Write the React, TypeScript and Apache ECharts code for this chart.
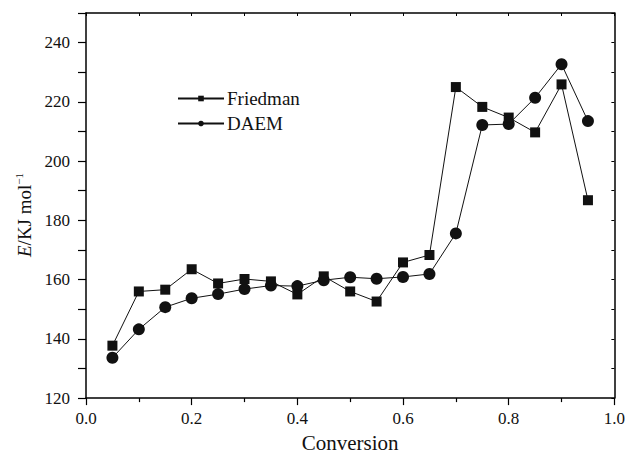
import React, { useEffect, useRef } from "react";
import * as echarts from "echarts";

const conversion = [0.05, 0.1, 0.15, 0.2, 0.25, 0.3, 0.35, 0.4, 0.45, 0.5, 0.55, 0.6, 0.65, 0.7, 0.75, 0.8, 0.85, 0.9, 0.95];
const friedman = [137.7, 156.0, 156.6, 163.5, 158.7, 160.2, 159.4, 155.0, 161.1, 156.0, 152.6, 165.8, 168.3, 225.0, 218.3, 214.7, 209.7, 225.9, 186.8];
const daem = [133.6, 143.2, 150.7, 153.7, 155.1, 156.8, 158.0, 157.8, 159.8, 160.8, 160.3, 160.9, 161.9, 175.6, 212.2, 212.5, 221.4, 232.7, 213.5];

const FONT = "'Liberation Serif', 'Times New Roman', serif";

export default function App() {
  const ref = useRef<HTMLDivElement>(null);
  useEffect(() => {
    document.body.style.margin = "0";
    const chart = echarts.init(ref.current!, null, { renderer: "svg" });
    const axisLine = { show: true, onZero: false, lineStyle: { color: "#000", width: 1.5 } };
    chart.setOption({
      animation: false,
      backgroundColor: "#fff",
      textStyle: { fontFamily: FONT },
      grid: { left: 86, right: 13, top: 13, bottom: 53 },
      legend: {
        left: 172,
        top: 84,
        orient: "vertical",
        itemWidth: 46,
        itemHeight: 7,
        itemGap: 6,
        textStyle: { fontFamily: FONT, fontSize: 19, color: "#111", padding: [0, 0, 0, -2] },
        data: ["Friedman", "DAEM"],
      },
      graphic: [
        {
          type: "text",
          x: 24,
          y: 215,
          rotation: Math.PI / 2,
          style: {
            text: "{i|E}{n|/KJ mol}{s|−1}",
            align: "center",
            verticalAlign: "middle",
            fill: "#111",
            font: `19px ${FONT}`,
            rich: {
              i: { fontFamily: FONT, fontSize: 19, fontStyle: "italic", fill: "#111", color: "#111" },
              n: { fontFamily: FONT, fontSize: 19, fill: "#111", color: "#111" },
              s: { fontFamily: FONT, fontSize: 11, fill: "#111", color: "#111", verticalAlign: "top", padding: [0, 0, 10, 0] },
            },
          },
        },
      ],
      xAxis: [
        {
          type: "value",
          min: 0,
          max: 1,
          interval: 0.2,
          name: "Conversion",
          nameLocation: "middle",
          nameGap: 30,
          nameTextStyle: { fontFamily: FONT, fontSize: 21, color: "#111" },
          axisLine,
          axisTick: { show: true, length: 7, lineStyle: { color: "#000", width: 1.2 } },
          minorTick: { show: true, splitNumber: 2, length: 4, lineStyle: { color: "#000", width: 1.2 } },
          splitLine: { show: false },
          axisLabel: {
            fontFamily: FONT,
            fontSize: 17,
            color: "#111",
            margin: 12,
            formatter: (v: number) => v.toFixed(1),
          },
        },
        {
          type: "value",
          position: "top",
          min: 0,
          max: 1,
          interval: 0.1,
          axisLine,
          axisTick: { show: true, inside: true, length: 3, lineStyle: { color: "#000" } },
          axisLabel: { show: false },
          splitLine: { show: false },
        },
      ],
      yAxis: [
        {
          type: "value",
          min: 120,
          max: 250,
          interval: 10,
          axisLine,
          axisTick: { show: true, length: 8, lineStyle: { color: "#000", width: 1.2 } },
          splitLine: { show: false },
          axisLabel: {
            fontFamily: FONT,
            fontSize: 17,
            color: "#111",
            margin: 16,
            formatter: (v: number) => (v % 20 === 0 ? String(v) : ""),
          },
        },
        {
          type: "value",
          position: "right",
          min: 120,
          max: 250,
          interval: 10,
          axisLine,
          axisTick: { show: true, inside: true, length: 3, lineStyle: { color: "#000" } },
          axisLabel: { show: false },
          splitLine: { show: false },
        },
      ],
      series: [
        {
          name: "Friedman",
          type: "line",
          data: conversion.map((x, i) => [x, friedman[i]]),
          symbol: "rect",
          symbolSize: 10,
          lineStyle: { color: "#111", width: 1 },
          itemStyle: { color: "#111" },
          z: 3,
        },
        {
          name: "DAEM",
          type: "line",
          data: conversion.map((x, i) => [x, daem[i]]),
          symbol: "circle",
          symbolSize: 12,
          lineStyle: { color: "#111", width: 1 },
          itemStyle: { color: "#111" },
          z: 2,
        },
      ],
    });
    return () => chart.dispose();
  }, []);
  return <div ref={ref} style={{ width: 628, height: 458 }} />;
}
